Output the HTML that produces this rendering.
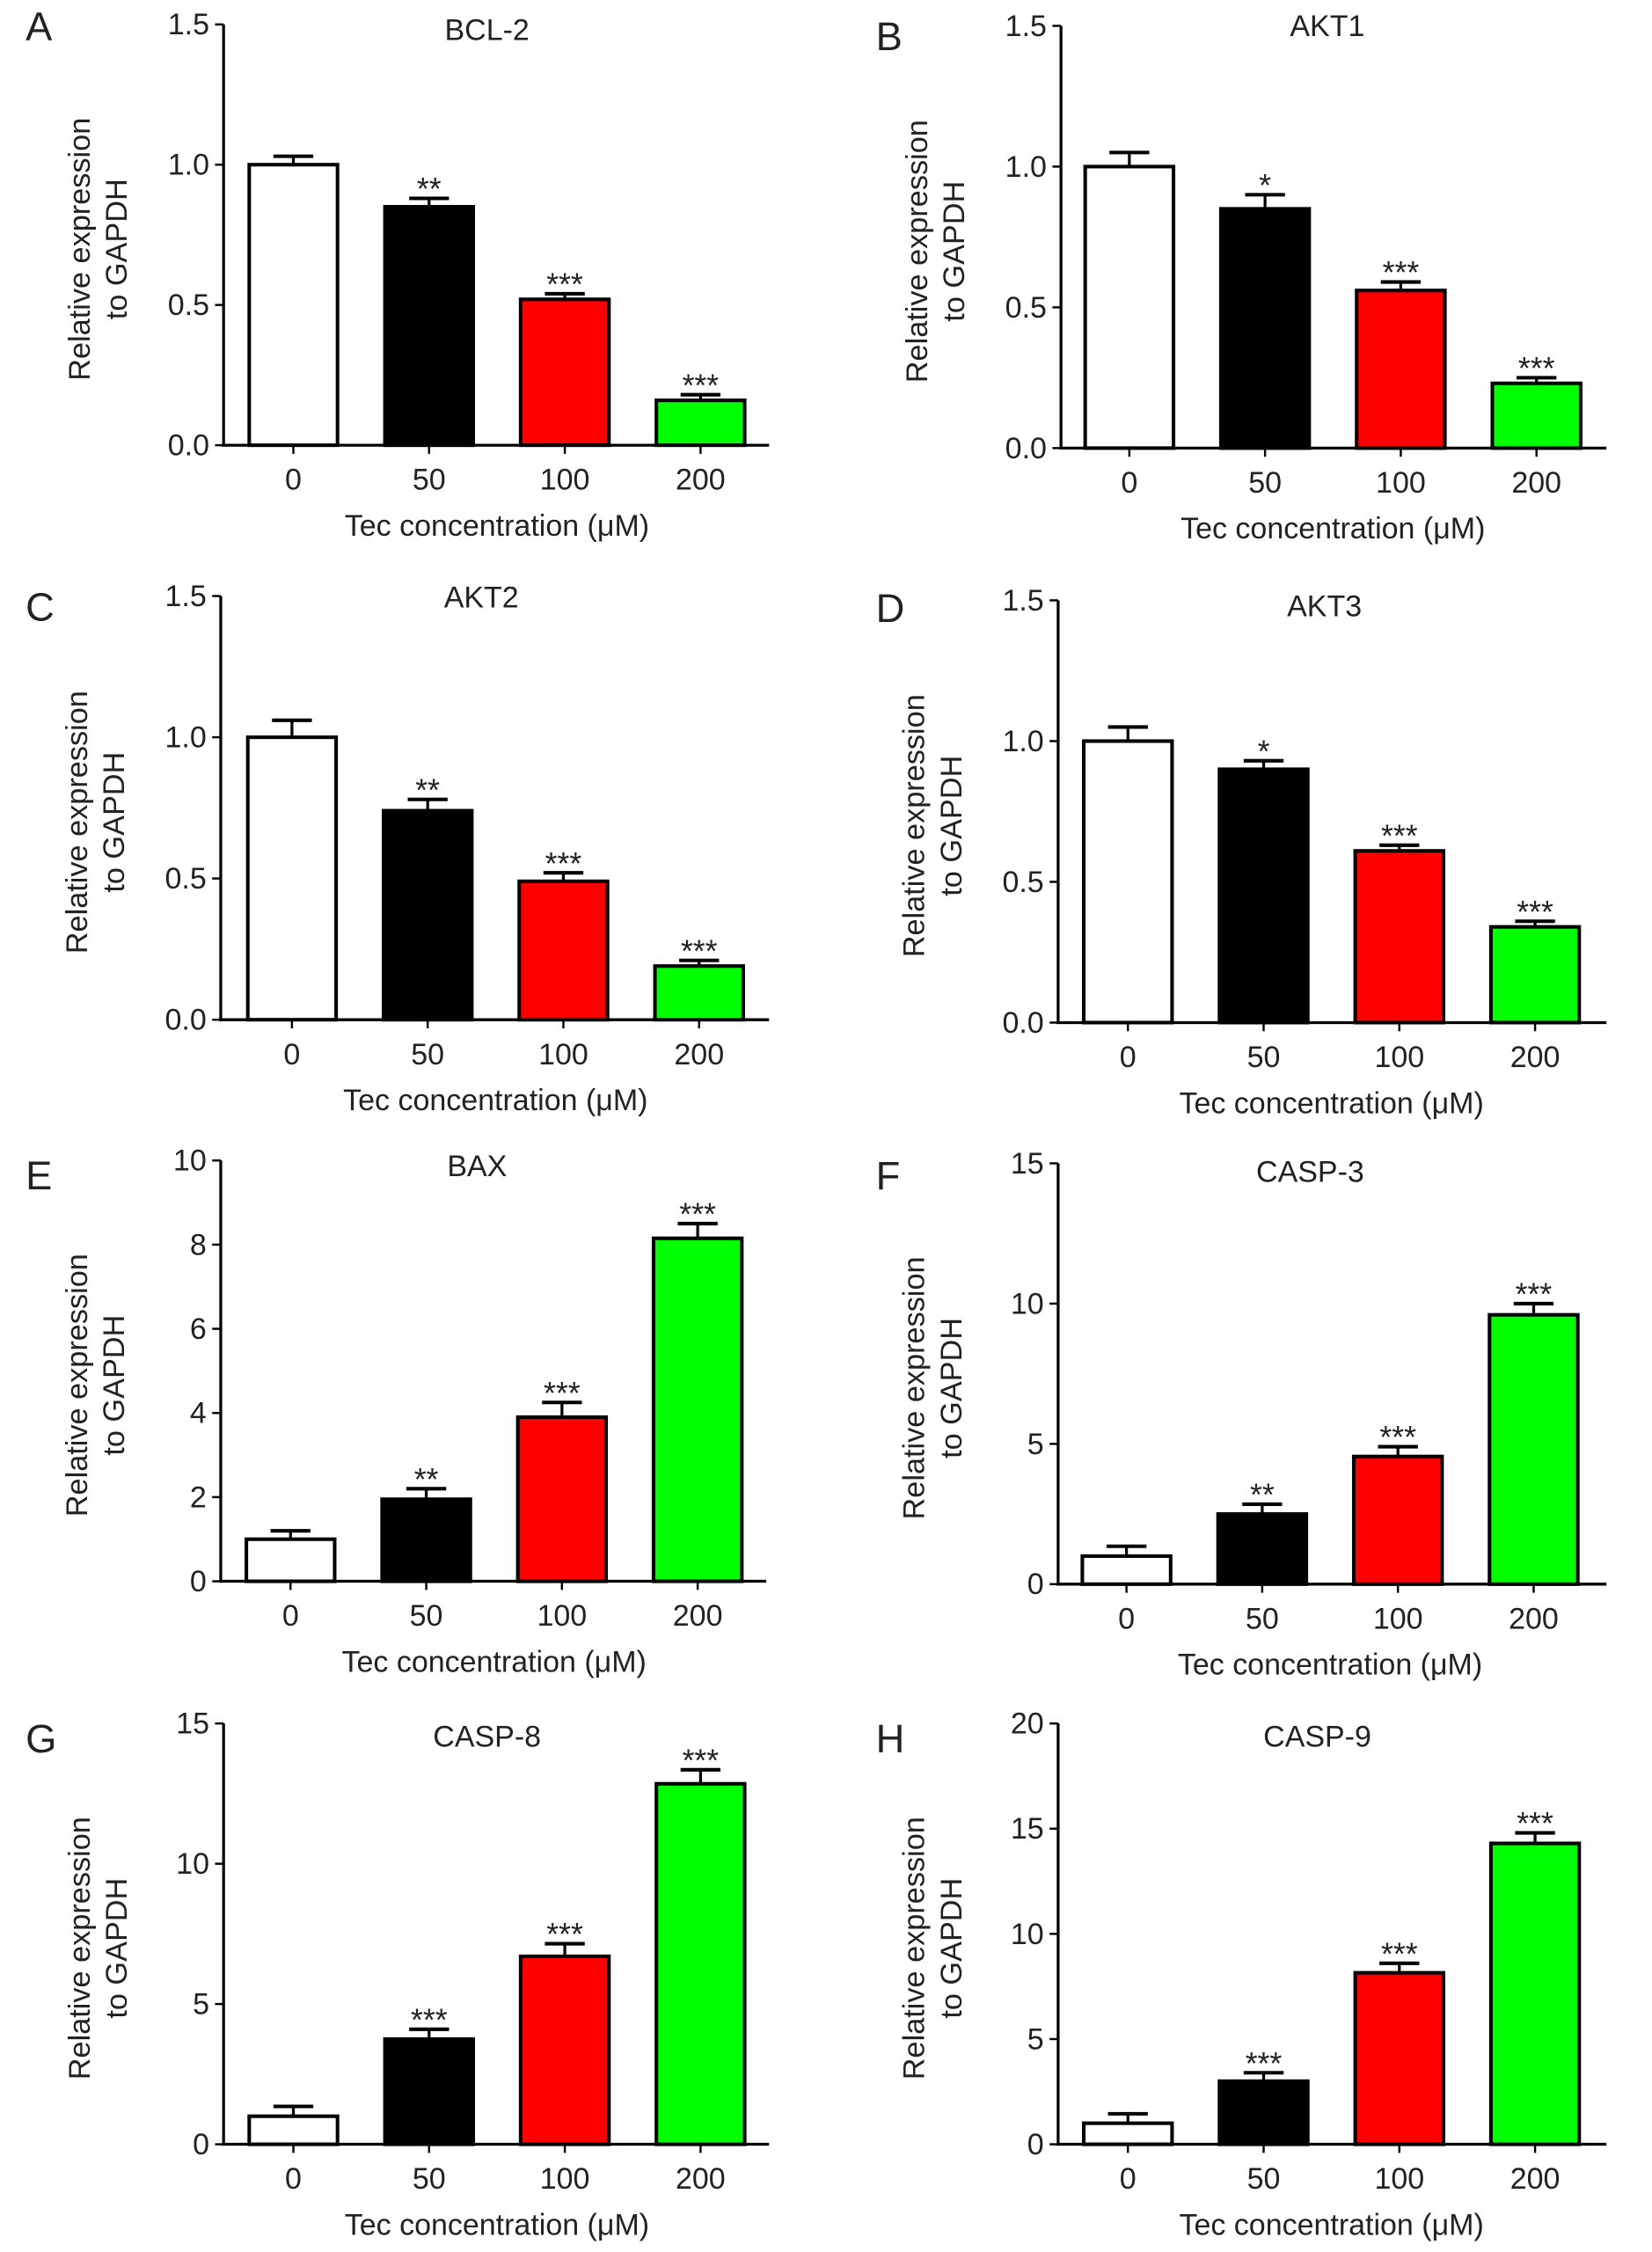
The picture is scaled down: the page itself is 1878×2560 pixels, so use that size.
<!DOCTYPE html>
<html><head><meta charset="utf-8"><style>
html,body{margin:0;padding:0;background:#fff}
svg{display:block}
text{font-family:"Liberation Sans Narrow","Liberation Sans",sans-serif;fill:#222}
</style></head><body>
<svg id="fig" width="1878" height="2560" viewBox="0 0 1160 1568" preserveAspectRatio="none" xmlns="http://www.w3.org/2000/svg"></svg>
<script>
const categories = ["0","50","100","200"];
const panelLetters = ["A","B","C","D","E","F","G","H"];
const panelTitles = ["BCL-2","AKT1","AKT2","AKT3","BAX","CASP-3","CASP-8","CASP-9"];
const valsA = [1.0,0.85,0.52,0.16], errA = [0.03,0.03,0.02,0.02], starsA = ["","**","***","***"];
const valsB = [1.0,0.85,0.56,0.23], errB = [0.05,0.05,0.03,0.02], starsB = ["","*","***","***"];
const valsC = [1.0,0.74,0.49,0.19], errC = [0.06,0.04,0.03,0.02], starsC = ["","**","***","***"];
const valsD = [1.0,0.90,0.61,0.34], errD = [0.05,0.03,0.02,0.02], starsD = ["","*","***","***"];
const valsE = [1.0,1.95,3.9,8.15], errE = [0.2,0.25,0.35,0.35], starsE = ["","**","***","***"];
const valsF = [1.0,2.5,4.55,9.6], errF = [0.35,0.35,0.35,0.4], starsF = ["","**","***","***"];
const valsG = [1.0,3.75,6.7,12.85], errG = [0.35,0.35,0.45,0.5], starsG = ["","***","***","***"];
const valsH = [1.0,3.0,8.15,14.3], errH = [0.45,0.4,0.45,0.5], starsH = ["","***","***","***"];
const ticksA = ["0.0","0.5","1.0","1.5"], ticksE = ["0","2","4","6","8","10"], ticksF = ["0","5","10","15"], ticksH = ["0","5","10","15","20"];
const tickValsA = [0,0.5,1,1.5], tickValsE = [0,2,4,6,8,10], tickValsF = [0,5,10,15], tickValsH = [0,5,10,15,20];

const colors = ["#ffffff","#000000","#ff0000","#00ff00"];
const NS = "http://www.w3.org/2000/svg";
const svg = document.getElementById('fig');
function mk(tag, attrs, parent){const e=document.createElementNS(NS,tag);for(const k in attrs)e.setAttribute(k,attrs[k]);(parent||svg).appendChild(e);return e;}

const layout = [
 {ax:157,top:17,zero:310,end:540,c0:206,lx:18,ly:18,tx:342,ty:20},
 {ax:745,top:18,zero:312,end:1128,c0:793,lx:615,ly:25,tx:932,ty:17},
 {ax:155,top:415,zero:710,end:540,c0:205,lx:18,ly:422,tx:338,ty:415},
 {ax:743,top:418,zero:712,end:1128,c0:792,lx:615,ly:423,tx:930,ty:421},
 {ax:155,top:808,zero:1101,end:538,c0:204,lx:18,ly:818,tx:335,ty:811},
 {ax:743,top:810,zero:1103,end:1128,c0:791,lx:615,ly:818,tx:920,ty:815},
 {ax:157,top:1200,zero:1493,end:540,c0:206,lx:18,ly:1210,tx:342,ty:1208},
 {ax:743,top:1200,zero:1493,end:1128,c0:792,lx:615,ly:1210,tx:925,ty:1208}
];
const datasets = [
 [valsA,errA,starsA,ticksA,tickValsA],[valsB,errB,starsB,ticksA,tickValsA],
 [valsC,errC,starsC,ticksA,tickValsA],[valsD,errD,starsD,ticksA,tickValsA],
 [valsE,errE,starsE,ticksE,tickValsE],[valsF,errF,starsF,ticksF,tickValsF],
 [valsG,errG,starsG,ticksF,tickValsF],[valsH,errH,starsH,ticksH,tickValsH]
];

layout.forEach((L,p)=>{
  const [vals,errs,stars,tlabels,tvals] = datasets[p];
  const ymax = tvals[tvals.length-1];
  const y = v => L.zero - v/ymax*(L.zero-L.top);
  const x = i => L.c0 + i*95.3;
  const g = mk('g',{});
  
  
  const lt = mk('text',{x:L.lx,y:L.ly+10,'font-size':28,'font-family':'Liberation Sans, sans-serif'},g); lt.textContent=panelLetters[p];
   
  const ti = mk('text',{x:L.tx,y:L.ty+8,'font-size':21,'text-anchor':'middle'},g); ti.textContent=panelTitles[p];
   
  vals.forEach((v,i)=>{
    const cx=x(i), top=y(v), et=y(v+errs[i]);
    const el=mk('line',{x1:cx,x2:cx,y1:top,y2:et,stroke:'#000','stroke-width':2},g);
     
    const cap=mk('line',{x1:cx-14,x2:cx+14,y1:et,y2:et,stroke:'#000','stroke-width':2.5},g);
     
    const r=mk('rect',{x:cx-31,y:top,width:62,height:L.zero-top,fill:colors[i],stroke:'#000','stroke-width':2.5},g);
     
    if(stars[i]){const s=mk('text',{x:cx,y:et+1,'font-size':22,'text-anchor':'middle'},g);s.textContent=stars[i];
       }
    const tk=mk('line',{x1:cx,x2:cx,y1:L.zero,y2:L.zero+6,stroke:'#000','stroke-width':1.5},g);
     
    const tl=mk('text',{x:cx,y:L.zero+31,'font-size':21,'text-anchor':'middle'},g); tl.textContent=categories[i];
     
  });
  const ya=mk('line',{x1:L.ax,x2:L.ax,y1:L.top,y2:L.zero+1,stroke:'#000','stroke-width':2},g);
   
  const xa=mk('line',{x1:L.ax-1,x2:L.end,y1:L.zero,y2:L.zero,stroke:'#000','stroke-width':2},g);
   
  tvals.forEach((tv,k)=>{
    const ty=y(tv);
    const t=mk('line',{x1:L.ax-6,x2:L.ax,y1:ty,y2:ty,stroke:'#000','stroke-width':1.5},g);
     
    const tl=mk('text',{x:L.ax-10,y:ty+7,'font-size':21,'text-anchor':'end'},g); tl.textContent=tlabels[k];
     
  });
  const cy=(L.top+L.zero)/2+10;
  const yt=mk('text',{transform:`translate(${L.ax-94},${cy}) rotate(-90)`,'font-size':21,'text-anchor':'middle'},g);
  yt.textContent='Relative expression';
   
  const yt2=mk('text',{transform:`translate(${L.ax-68},${cy}) rotate(-90)`,'font-size':21,'text-anchor':'middle'},g);
  yt2.textContent='to GAPDH';
   
  const xt=mk('text',{x:(L.c0+x(3))/2,y:L.zero+63,'font-size':21,'text-anchor':'middle'},g);
  xt.textContent='Tec concentration (\u03bcM)';
   
});
</script>
</body></html>
